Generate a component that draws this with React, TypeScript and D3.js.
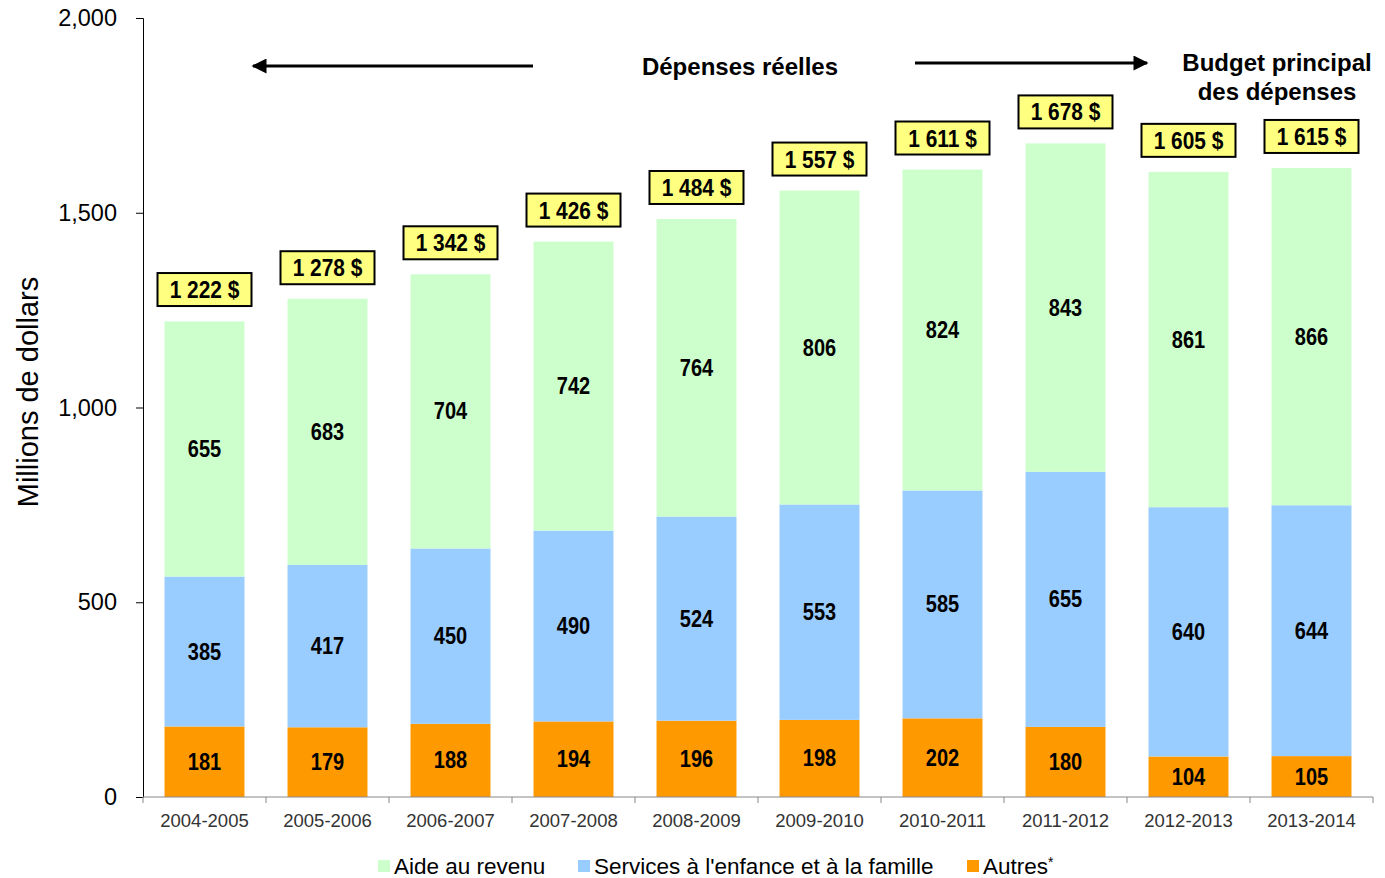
import React, { useEffect, useRef } from "react";
import * as d3 from "d3";

const years = [
  "2004-2005", "2005-2006", "2006-2007", "2007-2008", "2008-2009",
  "2009-2010", "2010-2011", "2011-2012", "2012-2013", "2013-2014",
];
const autres = [181, 179, 188, 194, 196, 198, 202, 180, 104, 105];
const services = [385, 417, 450, 490, 524, 553, 585, 655, 640, 644];
const aide = [655, 683, 704, 742, 764, 806, 824, 843, 861, 866];
const totals = ["1 222 $", "1 278 $", "1 342 $", "1 426 $", "1 484 $", "1 557 $", "1 611 $", "1 678 $", "1 605 $", "1 615 $"];
const totalValues = [1222, 1278, 1342, 1426, 1484, 1557, 1611, 1678, 1605, 1615];
const yTicks = [0, 500, 1000, 1500, 2000];

const seriesKeys = ["autres", "services", "aide"];
const seriesColors: Record<string, string> = {
  autres: "#FF9900",
  services: "#99CCFF",
  aide: "#CCFFCC",
};
const legendItems = [
  { key: "aide", label: "Aide au revenu", sup: "", x: 378 },
  { key: "services", label: "Services à l'enfance et à la famille", sup: "", x: 578 },
  { key: "autres", label: "Autres", sup: "*", x: 967 },
];

const W = 1385;
const H = 878;
const MARGIN = { LEFT: 143, RIGHT: 12, TOP: 18, BOTTOM: 81 };
const SANS = "'Liberation Sans', Arial, sans-serif";
const SQUEEZE = 0.87; // fake the narrow bold face

const App = () => {
  const svgRef = useRef<SVGSVGElement>(null);

  useEffect(() => {
    const svg = d3.select(svgRef.current);
    svg.selectAll("*").remove();

    const rows = years.map((y, i) => ({
      year: y,
      autres: autres[i],
      services: services[i],
      aide: aide[i],
    }));

    const x = d3
      .scaleBand()
      .domain(years)
      .range([MARGIN.LEFT, W - MARGIN.RIGHT])
      .paddingInner(0.35)
      .paddingOuter(0.175);
    const y = d3
      .scaleLinear()
      .domain([0, 2000])
      .range([H - MARGIN.BOTTOM, MARGIN.TOP]);

    const stack = d3.stack<any>().keys(seriesKeys)(rows);

    // bars
    const layers = svg
      .selectAll(".layer")
      .data(stack)
      .join("g")
      .attr("class", "layer")
      .attr("fill", (d) => seriesColors[d.key]);
    layers
      .selectAll("rect")
      .data((d) => d)
      .join("rect")
      .attr("x", (d: any) => x(d.data.year)!)
      .attr("width", x.bandwidth())
      .attr("y", (d) => y(d[1]))
      .attr("height", (d) => y(d[0]) - y(d[1]));

    // segment labels
    layers
      .selectAll("text")
      .data((d) => d)
      .join("text")
      .attr(
        "transform",
        (d: any) =>
          `translate(${x(d.data.year)! + x.bandwidth() / 2},${(y(d[0]) + y(d[1])) / 2 + 8}) scale(${SQUEEZE},1)`
      )
      .attr("text-anchor", "middle")
      .attr("font-family", SANS)
      .attr("font-weight", "bold")
      .attr("font-size", 23)
      .attr("fill", "#000")
      .text((d) => String(d[1] - d[0]));

    // y axis
    const yAxis = d3
      .axisLeft(y)
      .tickValues(yTicks)
      .tickSize(7)
      .tickPadding(19)
      .tickFormat((d) => d3.format(",")(d as number));
    const gy = svg
      .append("g")
      .attr("transform", `translate(${MARGIN.LEFT},0)`)
      .call(yAxis);
    gy.selectAll("text")
      .attr("font-family", SANS)
      .attr("font-size", 23.5)
      .attr("fill", "#000");
    gy.selectAll("line,path").attr("stroke", "#000");

    // x axis
    const xAxisLine = svg.append("g");
    xAxisLine
      .append("line")
      .attr("x1", MARGIN.LEFT)
      .attr("x2", W - MARGIN.RIGHT)
      .attr("y1", y(0))
      .attr("y2", y(0))
      .attr("stroke", "#888");
    const step = x.step();
    const boundaries = d3.range(years.length + 1).map((i) => MARGIN.LEFT + i * step);
    xAxisLine
      .selectAll(".xt")
      .data(boundaries)
      .join("line")
      .attr("x1", (d) => d)
      .attr("x2", (d) => d)
      .attr("y1", y(0))
      .attr("y2", y(0) + 6)
      .attr("stroke", "#888");
    xAxisLine
      .selectAll(".xl")
      .data(years)
      .join("text")
      .attr("x", (d) => x(d)! + x.bandwidth() / 2)
      .attr("y", y(0) + 30)
      .attr("text-anchor", "middle")
      .attr("font-family", SANS)
      .attr("font-size", 18.5)
      .attr("fill", "#333")
      .text((d) => d);

    // y title
    svg
      .append("text")
      .attr("transform", `translate(38,392) rotate(-90)`)
      .attr("text-anchor", "middle")
      .attr("font-family", SANS)
      .attr("font-size", 29)
      .text("Millions de dollars");

    // total boxes
    const boxes = svg
      .selectAll(".total")
      .data(years)
      .join("g")
      .attr("class", "total")
      .attr(
        "transform",
        (d, i) => `translate(${x(d)! + x.bandwidth() / 2},${y(totalValues[i]) - 32})`
      );
    boxes
      .append("rect")
      .attr("x", -47)
      .attr("y", -16)
      .attr("width", 94)
      .attr("height", 33)
      .attr("fill", "#FFFF80")
      .attr("stroke", "#000")
      .attr("stroke-width", 2);
    boxes
      .append("text")
      .attr("transform", `translate(0,9) scale(${SQUEEZE},1)`)
      .attr("text-anchor", "middle")
      .attr("font-family", SANS)
      .attr("font-weight", "bold")
      .attr("font-size", 24)
      .text((d, i) => totals[i]);

    // arrows
    const defs = svg.append("defs");
    defs
      .append("marker")
      .attr("id", "arrowhead")
      .attr("viewBox", "0 0 10 10")
      .attr("refX", 9)
      .attr("refY", 5)
      .attr("markerWidth", 6)
      .attr("markerHeight", 5)
      .attr("markerUnits", "strokeWidth")
      .attr("orient", "auto")
      .append("path")
      .attr("d", "M0,0L10,5L0,10Z")
      .attr("fill", "#000");
    svg
      .append("line")
      .attr("x1", 533)
      .attr("x2", 253)
      .attr("y1", 66)
      .attr("y2", 66)
      .attr("stroke", "#000")
      .attr("stroke-width", 3)
      .attr("marker-end", "url(#arrowhead)");
    svg
      .append("line")
      .attr("x1", 915)
      .attr("x2", 1147)
      .attr("y1", 63)
      .attr("y2", 63)
      .attr("stroke", "#000")
      .attr("stroke-width", 3)
      .attr("marker-end", "url(#arrowhead)");

    svg
      .append("text")
      .attr("x", 740)
      .attr("y", 75)
      .attr("text-anchor", "middle")
      .attr("font-family", SANS)
      .attr("font-weight", "bold")
      .attr("font-size", 24)
      .text("Dépenses réelles");
    const budget = svg
      .append("text")
      .attr("text-anchor", "middle")
      .attr("font-family", SANS)
      .attr("font-weight", "bold")
      .attr("font-size", 24);
    budget.append("tspan").attr("x", 1277).attr("y", 71).text("Budget principal");
    budget.append("tspan").attr("x", 1277).attr("y", 100).text("des dépenses");

    // legend
    const legend = svg
      .selectAll(".legend")
      .data(legendItems)
      .join("g")
      .attr("class", "legend")
      .attr("transform", (d) => `translate(${d.x},866)`);
    legend
      .append("rect")
      .attr("x", 0)
      .attr("y", -6)
      .attr("width", 12)
      .attr("height", 12)
      .attr("fill", (d) => seriesColors[d.key]);
    const lt = legend
      .append("text")
      .attr("x", 16)
      .attr("y", 8)
      .attr("font-family", SANS)
      .attr("font-size", 22.5)
      .attr("fill", "#000");
    lt.append("tspan").text((d) => d.label);
    lt.append("tspan")
      .attr("dy", -7)
      .attr("font-size", 14)
      .text((d) => d.sup);
  }, []);

  return (
    <svg
      ref={svgRef}
      width={W}
      height={H}
      style={{ position: "absolute", left: 0, top: 0 }}
    ></svg>
  );
};

export default App;
